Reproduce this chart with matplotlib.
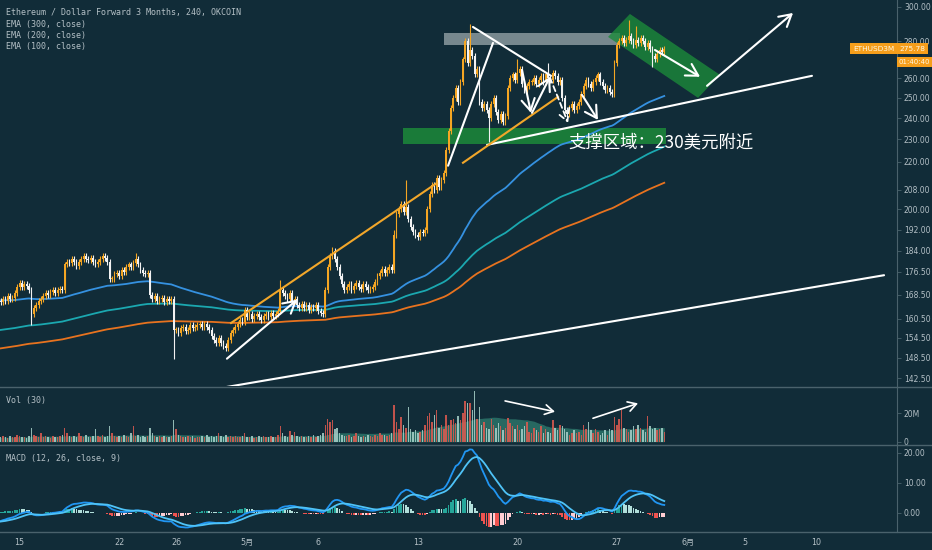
import datetime as dt
import numpy as np
import matplotlib
matplotlib.use("Agg")
import matplotlib.pyplot as plt
import matplotlib.dates as mdates
from matplotlib.patches import Polygon, Rectangle
from matplotlib.lines import Line2D
from matplotlib.ticker import NullLocator, FixedLocator, FixedFormatter

# ---------------- data ----------------
first_candle = dt.datetime(2019, 4, 13, 16, 0)
first_open = 166.5

close_rows = [
    [166.0, 167.0],                                   # Apr 13
    [166.5, 168.0, 167.0, 167.5, 169.0, 171.0],       # Apr 14
    [172.5, 171.0, 172.0, 171.5, 170.0, 162.0],       # Apr 15
    [164.0, 165.0, 166.5, 167.0, 168.0, 169.0],       # Apr 16
    [168.5, 169.5, 170.0, 169.0, 170.0, 170.5],       # Apr 17
    [170.0, 179.0, 180.0, 179.5, 181.0, 180.0],       # Apr 18
    [178.5, 180.0, 181.0, 182.0, 181.0, 180.5],       # Apr 19
    [181.5, 180.0, 179.0, 180.0, 181.0, 182.0],       # Apr 20
    [181.5, 180.0, 174.0, 174.0, 175.5, 176.0],       # Apr 21
    [175.0, 177.0, 176.5, 178.0, 179.0, 178.0],       # Apr 22
    [179.5, 181.0, 179.0, 177.0, 176.0, 175.5],       # Apr 23
    [176.0, 168.5, 167.0, 168.0, 166.5, 167.0],       # Apr 24
    [167.5, 166.0, 167.0, 166.5, 167.0, 157.0],       # Apr 25
    [157.0, 156.0, 157.5, 158.0, 156.5, 157.0],       # Apr 26
    [158.5, 157.5, 158.0, 158.5, 159.0, 158.0],       # Apr 27
    [159.0, 158.0, 157.0, 155.0, 154.0, 153.0],       # Apr 28
    [154.5, 153.0, 152.0, 151.5, 154.0, 156.0],       # Apr 29
    [157.0, 158.0, 159.0, 160.0, 159.5, 163.5],       # Apr 30
    [161.0, 162.0, 160.5, 161.5, 162.0, 161.0],       # May 1
    [160.0, 161.5, 162.0, 161.0, 162.5, 161.5],       # May 2
    [162.0, 163.0, 170.0, 169.0, 168.0, 167.0],       # May 3
    [169.0, 166.5, 167.0, 165.0, 164.0, 165.5],       # May 4
    [164.0, 165.0, 163.5, 164.5, 164.0, 165.0],       # May 5
    [163.0, 162.5, 162.0, 170.0, 178.0, 182.0],       # May 6
    [184.0, 181.0, 178.0, 175.0, 172.0, 170.0],       # May 7
    [171.0, 172.0, 170.0, 171.5, 172.5, 171.0],       # May 8
    [170.5, 172.0, 171.0, 170.0, 170.5, 171.0],       # May 9
    [173.0, 175.0, 176.0, 177.5, 176.0, 177.0],       # May 10
    [178.0, 177.0, 190.0, 198.0, 200.0, 202.0],       # May 11
    [199.0, 201.0, 196.0, 193.0, 191.0, 190.0],       # May 12
    [189.0, 191.0, 190.5, 192.0, 200.0, 206.0],       # May 13
    [210.0, 208.0, 213.0, 209.0, 212.0, 215.0],       # May 14
    [225.0, 234.0, 245.0, 250.0, 255.0, 248.0],       # May 15
    [258.0, 270.0, 280.0, 268.0, 275.0, 272.0],       # May 16
    [262.0, 265.0, 248.0, 245.0, 247.0, 244.0],       # May 17
    [240.0, 247.0, 250.0, 243.0, 239.0, 242.0],       # May 18
    [238.0, 241.0, 255.0, 260.0, 262.0, 259.0],       # May 19
    [263.0, 265.0, 257.0, 254.0, 256.0, 258.0],       # May 20
    [258.0, 260.0, 257.0, 259.0, 261.0, 258.0],       # May 21
    [262.0, 260.0, 259.0, 263.0, 261.0, 258.0],       # May 22
    [259.0, 250.0, 244.0, 242.0, 245.0, 247.0],       # May 23
    [244.0, 246.0, 248.0, 252.0, 256.0, 259.0],       # May 24
    [257.0, 255.0, 258.0, 260.0, 262.0, 258.0],       # May 25
    [256.0, 254.0, 255.0, 253.0, 252.0, 268.0],       # May 26
    [278.0, 280.0, 282.0, 279.0, 281.0, 283.0],       # May 27
    [280.0, 278.0, 281.0, 279.0, 282.0, 280.0],       # May 28
    [277.0, 279.0, 276.0, 272.0, 270.0, 273.0],       # May 29
    [275.0, 274.0, 275.78],                           # May 30
]

vol_rows = [  # millions
    [3, 4],
    [3, 2.5, 4, 3, 3.5, 5],
    [4, 3, 3.5, 2.5, 4, 10],
    [5, 4, 3, 6, 3.5, 4],
    [3, 2.5, 4, 3, 3.5, 4],
    [5, 10, 6, 4, 3, 4],
    [3.5, 6, 4, 3, 4.5, 3],
    [3, 4, 8.7, 4, 3, 5],
    [3.5, 4, 11, 6, 4, 3],
    [4, 3, 5, 4, 3.5, 6],
    [11, 4, 5, 3.5, 4, 3],
    [4, 9.4, 6, 4, 3, 4],
    [3, 4, 3.5, 3, 4, 15],
    [8.7, 5, 4, 3, 3.5, 4],
    [3, 4, 2.5, 3.5, 3, 4],
    [3, 4.5, 3, 4, 3.5, 4],
    [6, 4, 3, 5, 3.5, 4],
    [3, 4, 3.5, 3, 4, 6],
    [3.5, 3, 4, 2.5, 3.5, 4],
    [3, 4, 3, 3.5, 4, 3],
    [3, 5, 11, 6, 4, 3.5],
    [7.7, 5, 7, 4, 3, 4],
    [3.5, 3, 4, 3, 4.5, 3],
    [4, 5, 6, 12, 16, 14],
    [15, 9, 9.4, 6, 5, 4],
    [4, 5, 3.5, 4, 6, 4],
    [3.5, 4, 3, 5, 4, 3.5],
    [5, 4, 6, 5, 4.5, 4],
    [5, 6, 26, 14, 9, 17.6],
    [12, 10, 24.6, 9, 7, 8],
    [6, 7, 8, 12, 18, 20],
    [14, 19, 22, 10, 12, 9],
    [19, 12, 15, 16, 13, 18],
    [15, 20, 28.6, 27, 27, 22],
    [35.7, 16, 24.6, 12, 14, 10],
    [9, 16, 12, 10, 13, 11],
    [8, 10, 17, 13, 11, 9],
    [12, 8, 9, 11, 14, 7],
    [6, 10, 8, 7, 11, 6],
    [9, 7, 6, 15, 10, 8],
    [12, 11, 9, 7, 5, 6],
    [8, 6, 7, 5, 12, 9],
    [14, 8, 6, 9, 7, 5],
    [6, 8, 5, 9, 8, 17.6],
    [12, 16, 22, 10, 9, 7],
    [8, 11, 9, 12, 10, 8],
    [7, 18, 11, 9, 10, 8],
    [9, 10, 7],
]

wick_marks = [  # (candle time, high, low)
    ("2019-04-15 20:00", None, 158.5),
    ("2019-04-23 04:00", 183.0, None),
    ("2019-04-25 20:00", None, 148.0),
    ("2019-04-29 12:00", None, 150.5),
    ("2019-05-03 08:00", 173.5, None),
    ("2019-05-07 00:00", 185.5, None),
    ("2019-05-11 08:00", 192.0, None),
    ("2019-05-12 04:00", 212.0, None),
    ("2019-05-16 16:00", 290.0, None),
    ("2019-05-18 00:00", None, 229.0),
    ("2019-05-20 00:00", 270.0, None),
    ("2019-05-22 04:00", 268.0, None),
    ("2019-05-27 20:00", 292.0, None),
    ("2019-05-28 08:00", 289.0, None),
    ("2019-05-29 12:00", None, 266.0),
]

ema_periods = [100, 200, 300]
ema_seeds = [166.6, 156.9, 151.2]
macd_fast_seed, macd_slow_seed, macd_signal_seed = 166.0, 169.0, -3.0

price_ticks = [142.5, 148.5, 154.5, 160.5, 168.5, 176.5, 184, 192, 200, 208,
               220, 230, 240, 250, 260, 280, 300]
x_tick_dates = ["2019-04-15", "2019-04-22", "2019-04-26", "2019-05-01", "2019-05-06",
                "2019-05-13", "2019-05-20", "2019-05-27", "2019-06-01", "2019-06-05",
                "2019-06-10"]
x_tick_labels = ["15", "22", "26", "5月", "6", "13", "20", "27", "6月", "5", "10"]

# drawings: (days after Apr 15, price)
white_lines = [((14.23, 139.8), (60.79, 175.2)),
               ((32.87, 227.5), (55.72, 261.3)),
               ((31.88, 288.2), (37.37, 261.3)),
               ((30.13, 218.2), (33.29, 279.1))]
orange_lines = [((14.87, 159.2), (29.35, 210.8)),
                ((31.18, 219.5), (37.86, 250.5))]
white_arrows = [((14.58, 148.2), (19.51, 166.8)),
                ((44.68, 275.2), (47.85, 260.8)),
                ((48.34, 256.1), (54.39, 296.4)),
                ((35.33, 264.4), (35.96, 242.6)),
                ((36.03, 242.6), (37.30, 260.8)),
                ((39.55, 251.5), (40.67, 239.2))]
dashed_arrows = [((37.30, 260.3), (38.57, 237.8))]
resistance_box = ((29.84, 278.0), (42.22, 284.8))
support_box = ((26.96, 228.0), (45.46, 235.4))
channel = [(42.92, 295.8), (49.25, 261.8), (47.71, 250.0), (41.38, 282.5)]
support_text = "支撑区域：230美元附近"
support_text_at = (38.57, 228.5)
vol_arrows = [((34.14, 28.7), (37.65, 21.1)), ((40.32, 16.5), (43.49, 27.0))]

# ---------------- derived ----------------
closes = np.array([c for row in close_rows for c in row], dtype=float)
vols = np.array([v for row in vol_rows for v in row], dtype=float)
n = len(closes)
times = [first_candle + dt.timedelta(hours=4 * i) for i in range(n)]
xs = mdates.date2num(times)
opens = np.r_[first_open, closes[:-1]]
wick = 0.006
highs = np.maximum(opens, closes) * (1 + wick)
lows = np.minimum(opens, closes) * (1 - wick)
idx = {t.strftime("%Y-%m-%d %H:%M"): i for i, t in enumerate(times)}
for ts, h, l in wick_marks:
    i = idx[ts]
    if h is not None:
        highs[i] = h
    if l is not None:
        lows[i] = l
up = closes >= opens


def ema(vals, span, seed):
    a = 2.0 / (span + 1)
    out = np.empty(len(vals))
    e = seed
    for i, v in enumerate(vals):
        e = e + a * (v - e)
        out[i] = e
    return out


base = mdates.date2num(dt.datetime(2019, 4, 15))
D = lambda d: base + d
step = 1.0 / 6

# ---------------- figure ----------------
BG = "#112c38"
GRID = "#4a626c"
TXT = "#b4c0c6"
plt.rcParams["font.family"] = ["DejaVu Sans", "Noto Sans CJK SC"]

fig = plt.figure(figsize=(9.32, 5.5), dpi=100, facecolor=BG)
W = 897 / 932
ax = fig.add_axes([0, 1 - 386 / 550, W, 386 / 550], facecolor=BG)
axv = fig.add_axes([0, 1 - 444 / 550, W, 56 / 550], facecolor=BG, sharex=ax)
axm = fig.add_axes([0, 1 - 531.5 / 550, W, 85.5 / 550], facecolor=BG, sharex=ax)

for a in (ax, axv, axm):
    for s in ("top", "left", "bottom"):
        a.spines[s].set_visible(False)
    a.spines["right"].set_color(GRID)
    a.spines["right"].set_linewidth(0.8)
    a.yaxis.tick_right()
    a.tick_params(axis="y", colors=GRID, labelcolor=TXT, labelsize=5.5, length=3,
                  width=0.6, pad=2)
    a.tick_params(axis="x", length=0)

# main pane
ax.set_yscale("log")
ax.set_ylim(140.3, 304.2)
ax.set_xlim(D(-1.378), D(61.70))
ax.yaxis.set_major_locator(FixedLocator(price_ticks))
ax.yaxis.set_major_formatter(FixedFormatter(["%.2f" % v for v in price_ticks]))
ax.yaxis.set_minor_locator(NullLocator())
ax.tick_params(axis="x", labelbottom=False)

up_c, dn_c = "#f5a623", "#f2f2f2"
cols = np.where(up, up_c, dn_c)
ax.vlines(xs, lows, highs, colors=cols, linewidth=0.8, zorder=4)
body_bot = np.minimum(opens, closes)
body_h = np.maximum(np.abs(closes - opens), body_bot * 0.0015)
ax.bar(xs, body_h, bottom=body_bot, width=step * 0.72, color=cols, linewidth=0, zorder=5)

ema_colors = ["#3591e0", "#1ba8b0", "#e8731f"]
for p, s, c in zip(ema_periods, ema_seeds, ema_colors):
    ax.plot(xs, ema(closes, p, s), color=c, lw=1.3, zorder=3)

# drawings
(b0, b1) = resistance_box
ax.add_patch(Rectangle((D(b0[0]), b0[1]), D(b1[0]) - D(b0[0]), b1[1] - b0[1],
                       facecolor="#a3b0b4", alpha=0.7, edgecolor="none", zorder=2))
(b0, b1) = support_box
ax.add_patch(Rectangle((D(b0[0]), b0[1]), D(b1[0]) - D(b0[0]), b1[1] - b0[1],
                       facecolor="#1c8a3a", alpha=0.85, edgecolor="none", zorder=2))
ax.add_patch(Polygon([(D(t), p) for t, p in channel], closed=True,
                     facecolor="#1c8a3a", alpha=0.8, edgecolor="none", zorder=2))
for (t0, p0), (t1, p1) in white_lines:
    ax.plot([D(t0), D(t1)], [p0, p1], color="white", lw=1.5, zorder=6,
            solid_capstyle="round")
for (t0, p0), (t1, p1) in orange_lines:
    ax.plot([D(t0), D(t1)], [p0, p1], color="#f2a72a", lw=1.5, zorder=6)
for (t0, p0), (t1, p1) in white_arrows:
    ax.annotate("", xy=(D(t1), p1), xytext=(D(t0), p0),
                arrowprops=dict(arrowstyle="->,head_length=0.7,head_width=0.4",
                                color="white", lw=1.5, shrinkA=0, shrinkB=0,
                                mutation_scale=12), zorder=7)
for (t0, p0), (t1, p1) in dashed_arrows:
    ax.annotate("", xy=(D(t1), p1), xytext=(D(t0), p0),
                arrowprops=dict(arrowstyle="->,head_length=0.7,head_width=0.4",
                                color="white", lw=1.3, ls=(0, (3, 2)), shrinkA=0,
                                shrinkB=0, mutation_scale=12), zorder=7)
ax.text(D(support_text_at[0]), support_text_at[1], support_text, color="white",
        fontsize=12.5, family=["Noto Sans CJK SC", "DejaVu Sans"], ha="left",
        va="center", zorder=8)

# price labels
last = closes[-1]
ORG = "#f59e1b"
yax = ax.get_yaxis_transform()
ax.annotate("%.2f" % last, xy=(1.0, last), xycoords=yax, xytext=(2, 0),
            textcoords="offset points", ha="left", va="center", fontsize=5.3,
            color="#fff6e0", annotation_clip=False, zorder=10,
            bbox=dict(boxstyle="square,pad=0.35", fc=ORG, ec="none"))
ax.annotate("ETHUSD3M", xy=(1.0, last), xycoords=yax, xytext=(-2, 0),
            textcoords="offset points", ha="right", va="center", fontsize=5.3,
            color="#fff6e0", annotation_clip=False, zorder=10,
            bbox=dict(boxstyle="square,pad=0.35", fc=ORG, ec="none"))
ax.annotate("01:40:40", xy=(1.0, last), xycoords=yax, xytext=(1, -9.5),
            textcoords="offset points", ha="left", va="center", fontsize=5.0,
            color="#fff6e0", annotation_clip=False, zorder=10,
            bbox=dict(boxstyle="square,pad=0.25", fc=ORG, ec="none"))

# volume pane
axv.set_ylim(-1.6, 37.8)
vma = np.array([vols[max(0, i - 29):i + 1].mean() for i in range(n)])
axv.fill_between(xs, 0, vma, color="#2a6f66", alpha=0.9, linewidth=0, zorder=1)
vcols = np.where(up, "#e05a50", "#a9d2ca")
axv.bar(xs, vols, width=step * 0.62, color=vcols, alpha=0.85, linewidth=0, zorder=2)
axv.yaxis.set_major_locator(FixedLocator([0, 20]))
axv.yaxis.set_major_formatter(FixedFormatter(["0", "20M"]))
axv.tick_params(axis="x", labelbottom=False)
for (t0, v0), (t1, v1) in vol_arrows:
    axv.annotate("", xy=(D(t1), v1), xytext=(D(t0), v0),
                 arrowprops=dict(arrowstyle="->,head_length=0.6,head_width=0.35",
                                 color="white", lw=1.2, shrinkA=0, shrinkB=0,
                                 mutation_scale=10), zorder=7)

# MACD pane
fast = ema(closes, 12, macd_fast_seed)
slow = ema(closes, 26, macd_slow_seed)
macd = fast - slow
signal = ema(macd, 9, macd_signal_seed)
hist = macd - signal
prev = np.r_[hist[0], hist[:-1]]
hcols = np.where(hist >= 0, np.where(hist >= prev, "#26a69a", "#b2dfdb"),
                 np.where(hist < prev, "#ef5350", "#ffcdd2"))
axm.bar(xs, hist, width=step * 0.75, color=hcols, linewidth=0, zorder=2)
axm.plot(xs, macd, color="#2196f3", lw=1.3, zorder=3)
axm.plot(xs, signal, color="#4fc3f7", lw=1.3, zorder=3)
axm.set_ylim(-6.27, 22.2)
axm.yaxis.set_major_locator(FixedLocator([0, 10, 20]))
axm.yaxis.set_major_formatter(FixedFormatter(["0.00", "10.00", "20.00"]))
axm.xaxis.set_major_locator(FixedLocator(
    [mdates.date2num(dt.datetime.strptime(d, "%Y-%m-%d")) for d in x_tick_dates]))
axm.xaxis.set_major_formatter(FixedFormatter(x_tick_labels))
axm.tick_params(axis="x", labelcolor=TXT, labelsize=5.8, pad=5)

# separators
for y in (387, 445, 532):
    fig.add_artist(Line2D([0, 1], [1 - y / 550, 1 - y / 550], color=GRID, lw=1.0,
                          transform=fig.transFigure))

# legends
mono = "DejaVu Sans Mono"
for i, s in enumerate(["Ethereum / Dollar Forward 3 Months, 240, OKCOIN",
                       "EMA (300, close)", "EMA (200, close)", "EMA (100, close)"]):
    fig.text(5.5 / 932, 1 - (12.7 + 11.3 * i) / 550, s, color=TXT, fontsize=6,
             family=mono, va="center", ha="left")
fig.text(5.5 / 932, 1 - 400 / 550, "Vol (30)", color=TXT, fontsize=6, family=mono,
         va="center")
fig.text(5.5 / 932, 1 - 458 / 550, "MACD (12, 26, close, 9)", color=TXT, fontsize=6,
         family=mono, va="center")

fig.savefig("out.png", dpi=100, facecolor=BG)
